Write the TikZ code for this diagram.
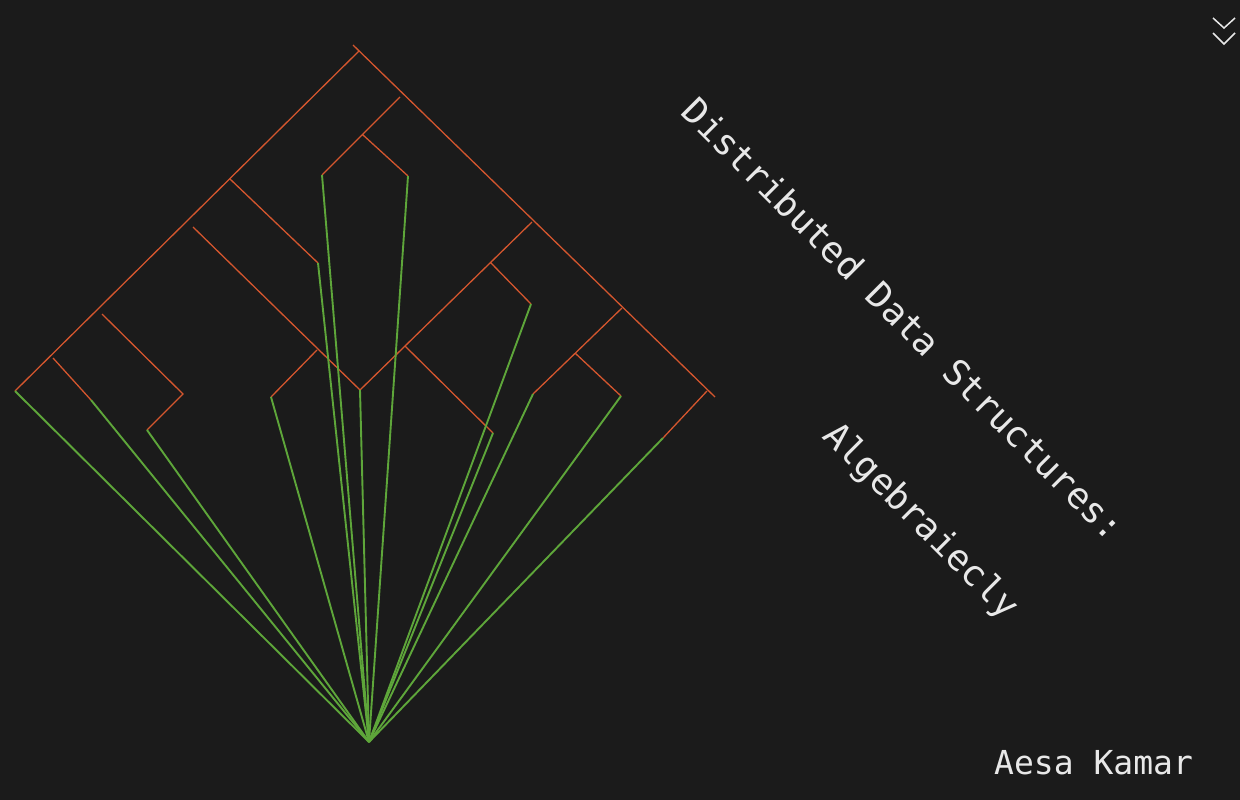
\documentclass[tikz,border=0pt]{standalone}
\usepackage{fontspec}
\setmonofont{DejaVu Sans Mono}
\definecolor{DDBack}{HTML}{1B1B1B}
\definecolor{DDOrange}{HTML}{D4562E}
\definecolor{DDGreen}{HTML}{5EA63A}
\definecolor{DDText}{HTML}{E8E8E8}
\usetikzlibrary{calc}

\begin{document}
\begin{tikzpicture}[x=1pt, y=-1pt,
    branch/.style={draw=DDOrange, line width=1.3pt},
    stem/.style={draw=DDGreen, line width=1.9pt},
    caption/.style={text=DDText, font=\ttfamily\fontsize{#1}{#1}\selectfont, inner sep=0pt}]
  \fill[DDBack] (0,0) rectangle (1240,800);
  % tree points
  \coordinate (top) at (359,51);  \coordinate (tip) at (353,45);
  \coordinate (lend) at (15,391); \coordinate (rend) at (715,397);
  \coordinate (a1) at (400,97);  \coordinate (a2) at (363,135);
  \coordinate (a3) at (322,175); \coordinate (a4) at (408,176);
  \coordinate (b1) at (230,179); \coordinate (b2) at (318,263);
  \coordinate (c1) at (193,227); \coordinate (c2) at (317,350);
  \coordinate (c3) at (360,390); \coordinate (c4) at (271,397);
  \coordinate (d1) at (532,222); \coordinate (d2) at (491,263);
  \coordinate (d3) at (531,304); \coordinate (d4) at (405,346);
  \coordinate (d5) at (493,433);
  \coordinate (e1) at (622,308); \coordinate (e2) at (575,353);
  \coordinate (e3) at (533,394); \coordinate (e4) at (621,396);
  \coordinate (f1) at (707,391); \coordinate (f2) at (663,438);
  \coordinate (g1) at (102,314); \coordinate (g2) at (183,394);
  \coordinate (g3) at (147,430);
  \coordinate (h1) at (53,358);  \coordinate (h2) at (91,400);
  \coordinate (base) at (369,742);
  % orange branches
  \draw[branch] (top)--(lend) (tip)--(rend);
  \draw[branch] (a1)--(a3) (a2)--(a4) (b1)--(b2);
  \draw[branch] (c1)--(c3) (c2)--(c4) (d1)--(c3) (d2)--(d3) (d4)--(d5);
  \draw[branch] (e1)--(e3) (e2)--(e4) (f1)--(f2);
  \draw[branch] (g1)--(g2)--(g3) (h1)--(h2);
  % green stems
  \foreach \leaf in {lend,h2,g3,c4,b2,a3,c3,a4,d3,d5,e3,e4,f2}
    \draw[stem] (\leaf)--(base);
  % texts
  \node[caption=36, rotate=-45] (title) at (904,319) {Distributed Data Structures:};
  \node[caption=36, rotate=-45] (subtitle) at (920,522) {Algebraiecly};
  \node[caption=33, anchor=base west] (author) at (994,774) {Aesa Kamar};
  % menu chevrons
  \draw[DDText, line width=1.5pt] (1213,18)--(1224,28)--(1235,18) (1213,33)--(1224,44)--(1235,33);
\end{tikzpicture}
\end{document}
